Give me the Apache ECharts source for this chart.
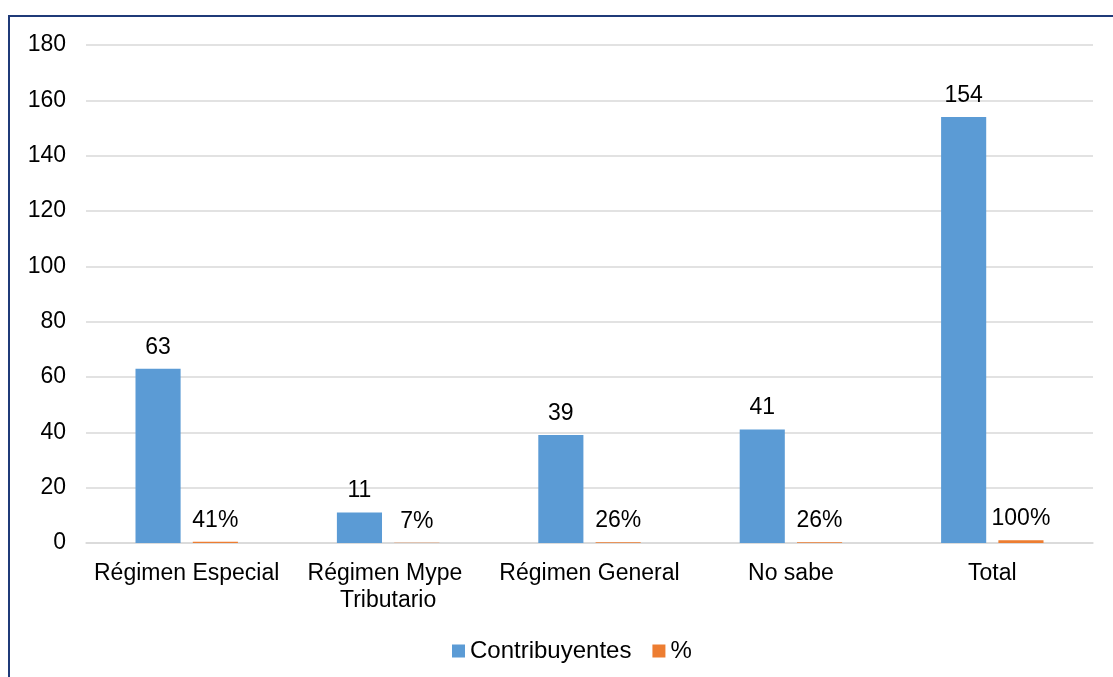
<!DOCTYPE html>
<html>
<head>
<meta charset="utf-8">
<script src="https://cdn.jsdelivr.net/npm/echarts@6/dist/echarts.min.js"></script>
<style>
html,body{margin:0;padding:0;background:#fff;}
#frame{position:absolute;left:8px;top:15px;width:1105px;height:662px;border-top:2px solid #1f3a78;border-left:2px solid #1f3a78;box-sizing:border-box;}
#chart{position:absolute;left:0;top:0;width:1113px;height:677px;}
</style>
</head>
<body>
<div id="frame"></div>
<div id="chart"></div>
<script>
const categories = ["Régimen Especial", "Régimen Mype Tributario", "Régimen General", "No sabe", "Total"];
const contribuyentes = [63, 11, 39, 41, 154];
const pct = [0.41, 0.07, 0.26, 0.26, 1.00];
const yTicks = { min: 0, max: 180, interval: 20 };

const chart = echarts.init(document.getElementById('chart'));
const font = 'Liberation Sans, Arial, sans-serif';
chart.setOption({
  animation: false,
  textStyle: { fontFamily: font },
  grid: { left: 86, right: 20, top: 45, bottom: 134 },
  legend: {
    top: 634, left: 447,
    itemWidth: 13, itemHeight: 13, itemGap: 21,
    icon: 'rect',
    textStyle: { fontSize: 24, color: '#000', fontFamily: font },
    data: ['Contribuyentes', '%']
  },
  xAxis: {
    type: 'category', data: categories,
    axisLine: { lineStyle: { color: '#d9d9d9', width: 1.5 } },
    axisTick: { show: false },
    axisLabel: { fontSize: 23, color: '#000', margin: 17, width: 200, overflow: 'break', lineHeight: 27, interval: 0 }
  },
  yAxis: {
    type: 'value', min: yTicks.min, max: yTicks.max, interval: yTicks.interval,
    axisLine: { show: false }, axisTick: { show: false },
    axisLabel: { fontSize: 23, color: '#000', margin: 20 },
    splitLine: { lineStyle: { color: '#d9d9d9', width: 1.5 } }
  },
  series: [
    {
      name: 'Contribuyentes', type: 'bar', data: contribuyentes,
      barWidth: '22.4%', barGap: '27%',
      itemStyle: { color: '#5b9bd5' },
      label: { show: true, position: 'top', distance: 10, fontSize: 23, color: '#000' }
    },
    {
      name: '%', type: 'bar', data: pct,
      barWidth: '22.4%',
      itemStyle: { color: '#ed7d31' },
      label: { show: true, position: 'top', distance: 10, fontSize: 23, color: '#000',
        formatter: p => Math.round(p.value * 100) + '%' }
    }
  ]
});
</script>
</body>
</html>
